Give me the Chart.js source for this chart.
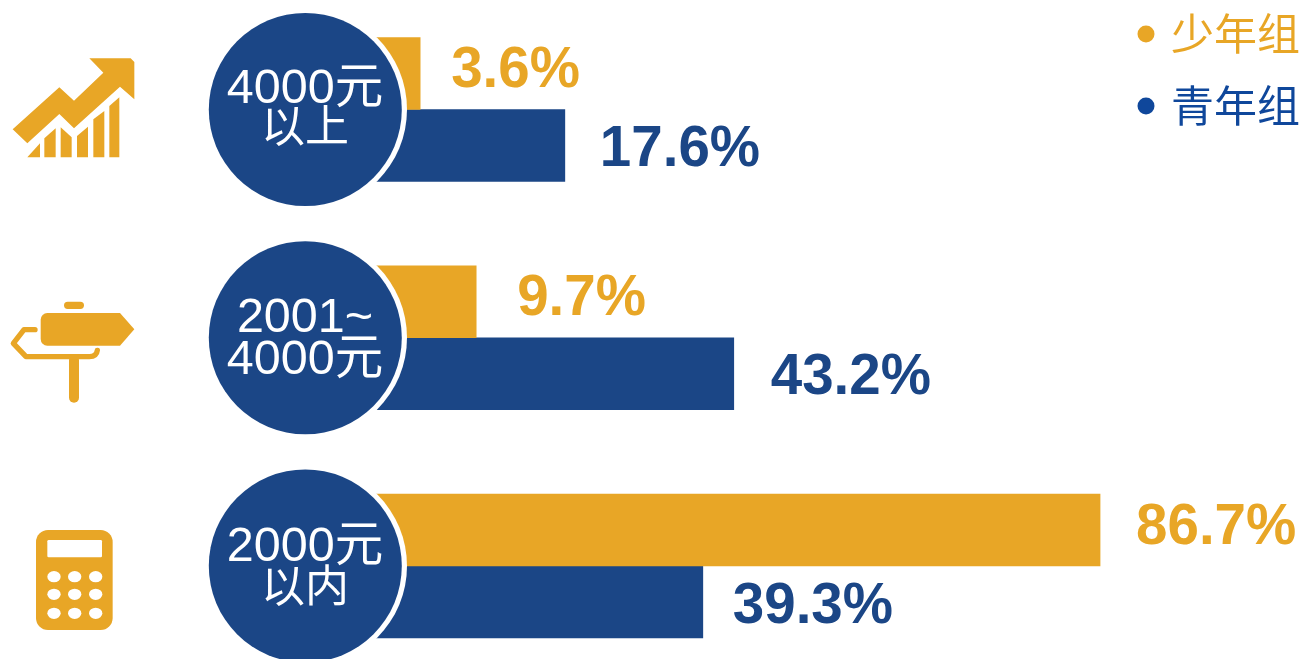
<!DOCTYPE html>
<html lang="zh">
<head>
<meta charset="utf-8">
<title>收入分组</title>
<style>
html,body{margin:0;padding:0;background:#fff;overflow:hidden}
#wrap{position:absolute;left:0;top:0;width:1301px;height:659px}
</style>
<script src="https://cdn.jsdelivr.net/npm/chart.js@4"></script>
</head>
<body>
<div id="wrap"><canvas id="c"></canvas></div>
<script>
const categories = [['4000元','以上'],['2001~','4000元'],['2000元','以内']];
const seriesNames = ['少年组','青年组'];
// printed percentages
const youthLabels = [3.6, 9.7, 86.7];
const teenLabels = [17.6, 43.2, 39.3];
// bar lengths (the source's short bars are not drawn to scale with their labels)
const youthBars = [5.4, 12.1, 86.7];
const teenBars = [22.7, 42.9, 39.2];

const ORANGE = '#E8A626', NAVY = '#1B4686', LEGEND_BLUE = '#0F479B';
const SANS = '"Liberation Sans","Noto Sans CJK SC",sans-serif';
const CJK = '"Noto Sans CJK SC",sans-serif';

function poly(ctx, pts){ ctx.beginPath(); pts.forEach((p,i)=> i?ctx.lineTo(p[0],p[1]):ctx.moveTo(p[0],p[1])); ctx.closePath(); ctx.fill(); }

function iconTrend(ctx){
  ctx.save(); ctx.translate(0,30); ctx.scale(1/3,1/3); ctx.fillStyle=ORANGE;
  poly(ctx,[[38,298],[178,172],[222,212],[310,128],[268,85],[392,85],[403,96],[403,208],[360,170],[222,295],[178,252],[82,340]]);
  poly(ctx,[[82,382],[120,382],[120,340]]);
  poly(ctx,[[133,382],[133,325],[167,295],[167,382]]);
  poly(ctx,[[182,382],[182,292],[215,322],[215,382]]);
  poly(ctx,[[231,382],[231,318],[264,290],[264,382]]);
  poly(ctx,[[280,382],[280,268],[313,243],[313,382]]);
  poly(ctx,[[328,382],[328,228],[358,202],[358,382]]);
  ctx.restore();
}
function iconSign(ctx){
  ctx.save(); ctx.translate(0,285); ctx.scale(1/3,1/3); ctx.fillStyle=ORANGE; ctx.strokeStyle=ORANGE;
  ctx.beginPath(); ctx.roundRect(192,50,60,22,11); ctx.fill();
  ctx.beginPath(); ctx.moveTo(142,84); ctx.lineTo(360,84); ctx.lineTo(403,133); ctx.lineTo(360,182); ctx.lineTo(142,182);
  ctx.arcTo(122,182,122,162,20); ctx.lineTo(122,104); ctx.arcTo(122,84,142,84,20); ctx.closePath(); ctx.fill();
  ctx.beginPath(); ctx.roundRect(207,210,30,143,15); ctx.fill();
  ctx.lineWidth=16; ctx.lineCap='round'; ctx.lineJoin='round';
  ctx.beginPath(); ctx.moveTo(105,134); ctx.lineTo(72,134); ctx.lineTo(40,175); ctx.lineTo(78,215); ctx.lineTo(268,215); ctx.quadraticCurveTo(290,215,292,196); ctx.stroke();
  ctx.restore();
}
function iconCalc(ctx){
  ctx.save(); ctx.translate(20,515); ctx.scale(1/3,1/3); ctx.fillStyle=ORANGE;
  ctx.beginPath(); ctx.roundRect(48,45,230,300,36); ctx.fill();
  ctx.fillStyle='#fff';
  ctx.beginPath(); ctx.roundRect(82,75,164,52,4); ctx.fill();
  [185,238,295].forEach(y=>[102,164,227].forEach(x=>{ ctx.beginPath(); ctx.ellipse(x,y,20,17,0,0,Math.PI*2); ctx.fill(); }));
  ctx.restore();
}

const decor = {
  id:'decor',
  afterDatasetsDraw(chart){
    const ctx = chart.ctx, yS = chart.scales.y;
    ctx.save();
    // value labels
    const gapsX = [[31,41,36],[35,37,30]], shiftY = [-5,2];
    [[youthLabels,ORANGE],[teenLabels,NAVY]].forEach(([vals,col],d)=>{
      const meta = chart.getDatasetMeta(d);
      ctx.fillStyle=col; ctx.font='bold 56.5px '+SANS; ctx.textAlign='left'; ctx.textBaseline='middle';
      vals.forEach((v,i)=>{ const el=meta.data[i]; ctx.fillText(v.toFixed(1)+'%', el.x+gapsX[d][i], el.y+shiftY[d]+3); });
    });
    // circles and their labels
    const lineShift = [[-20,20.5],[-19,23],[-18,23.5]];
    categories.forEach((lines,i)=>{
      const cy = yS.getPixelForValue(i);
      ctx.beginPath(); ctx.arc(306,cy,101,0,Math.PI*2); ctx.fillStyle='#fff'; ctx.fill();
      ctx.beginPath(); ctx.arc(305.3,cy,96.5,0,Math.PI*2); ctx.fillStyle=NAVY; ctx.fill();
      ctx.fillStyle='#fff'; ctx.textAlign='center'; ctx.textBaseline='middle';
      lines.forEach((t,j)=>{
        const onlyCjk = !/[0-9~]/.test(t);
        ctx.font=(onlyCjk?'44px ':'48.5px ')+SANS;
        ctx.fillText(t,305,cy+lineShift[i][j]);
      });
    });
    iconTrend(ctx); iconSign(ctx); iconCalc(ctx);
    // legend
    [[seriesNames[0],ORANGE,ORANGE,34],[seriesNames[1],LEGEND_BLUE,LEGEND_BLUE,106]].forEach(([t,dot,col,y])=>{
      ctx.beginPath(); ctx.arc(1146,y,8.5,0,Math.PI*2); ctx.fillStyle=dot; ctx.fill();
      ctx.fillStyle=col; ctx.font='43px '+CJK; ctx.textAlign='left'; ctx.textBaseline='middle';
      ctx.fillText(t,1171,y);
    });
    ctx.restore();
  }
};

new Chart(document.getElementById('c'),{
  type:'bar',
  data:{
    labels:categories.map(c=>c.join('')),
    datasets:[
      {label:seriesNames[0],data:youthBars,backgroundColor:ORANGE,barThickness:72,clip:false},
      {label:seriesNames[1],data:teenBars,backgroundColor:NAVY,barThickness:72,clip:false}
    ]
  },
  options:{
    indexAxis:'y',
    responsive:true,
    maintainAspectRatio:false,
    animation:false,
    layout:{padding:{left:375,right:27,top:109.5,bottom:93}},
    plugins:{legend:{display:false},tooltip:{enabled:false}},
    scales:{
      x:{type:'linear',min:0,max:107.5,display:false},
      y:{type:'category',offset:false,display:false}
    }
  },
  plugins:[decor]
});
</script>
</body>
</html>
